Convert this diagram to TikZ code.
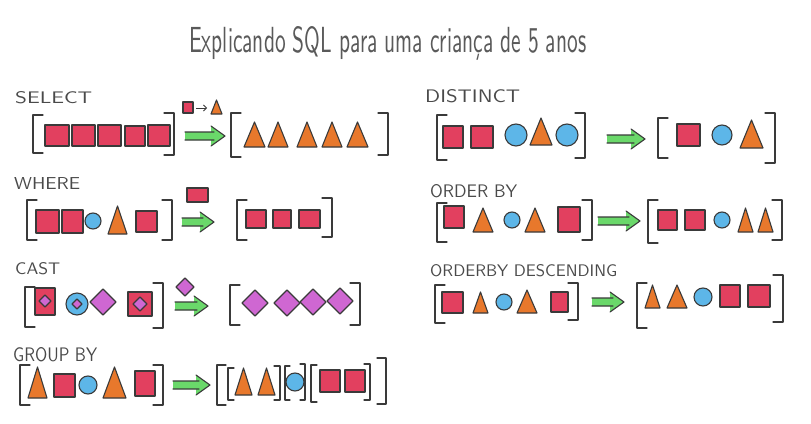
\documentclass[tikz,border=0pt]{standalone}
\usepackage{fontspec}
\usetikzlibrary{arrows.meta}
\definecolor{ink}{HTML}{3A3A3A}
\definecolor{lblcol}{HTML}{4A4A4A}
\definecolor{ttlcol}{HTML}{5A5A5A}
\definecolor{redsq}{HTML}{E2405F}
\definecolor{orgtri}{HTML}{E8782C}
\definecolor{blucir}{HTML}{5DB6E8}
\definecolor{purdia}{HTML}{CF67D2}
\definecolor{grnarw}{HTML}{6AD86A}
\tikzset{
  shp/.style={draw=ink, line width=1.1pt, line join=round},
  sqs/.style={shp, fill=redsq},
  tris/.style={shp, fill=orgtri},
  cis/.style={shp, fill=blucir},
  dias/.style={shp, fill=purdia},
  brk/.style={draw=ink, line width=1.3pt, line cap=round, line join=round},
  lbl/.style={anchor=south west, inner sep=0pt, text=lblcol, font=\sffamily}
}
\newcommand\Sq[4]{\path[sqs] (#1,#2) rectangle (#3,#4);}
\newcommand\Tri[4]{\path[tris] (#1,#4) -- ({(#1+#3)/2},#2) -- (#3,#4) -- cycle;}
\newcommand\Cir[3]{\path[cis] (#1,#2) circle[radius=#3pt];}
\newcommand\Dia[3]{\path[dias] ({#1-#3},#2) -- (#1,{#2-#3}) -- ({#1+#3},#2) -- (#1,{#2+#3}) -- cycle;}
\newcommand\Brl[4]{\draw[brk] ({#1+#4},#2) -- (#1,#2) -- (#1,#3) -- ({#1+#4},#3);}
\newcommand\Brr[4]{\draw[brk] ({#1-#4},#2) -- (#1,#2) -- (#1,#3) -- ({#1-#4},#3);}
\newcommand\Arw[3]{%
  \path[fill=grnarw] (#1,{#3-4}) -- ({#2-14},{#3-4}) -- ({#2-14},{#3-10}) -- (#2,#3) -- ({#2-14},{#3+10}) -- ({#2-14},{#3+4}) -- (#1,{#3+4}) -- cycle;
  \draw[draw=ink, line width=1.1pt, line cap=round, line join=round] (#1,{#3-4}) -- ({#2-11},{#3-4}) (#1,{#3+4}) -- ({#2-11},{#3+4}) ({#2-14},{#3-10}) -- (#2,#3) -- ({#2-14},{#3+10});}
\newcommand\Lbl[5]{\node[lbl] at (#1,#2) {\resizebox{#3pt}{#4pt}{#5}};}
\begin{document}
\begin{tikzpicture}[x=1pt,y=-1pt]
\useasboundingbox[fill=white] (0,0) rectangle (811,423);
% title
\node[anchor=base west, inner sep=0pt, text=ttlcol, font=\sffamily] (title) at (189,52) {\resizebox{397pt}{26pt}{Explicando SQL para uma criança de 5 anos}};
% labels
\Lbl{15}{104}{77}{12}{SELECT}
\Lbl{14}{190}{66}{12}{WHERE}
\Lbl{15}{275}{45}{12}{CAST}
\Lbl{13}{362}{84}{14}{GROUP BY}
\Lbl{425}{103}{95}{13}{DISTINCT}
\Lbl{430}{198}{87}{13}{ORDER BY}
\Lbl{430}{277}{187}{12}{ORDERBY DESCENDING}
% ---------- SELECT
\Brl{33}{115}{153}{10}
\Sq{45}{125}{69}{146}\Sq{72}{125}{95}{146}\Sq{98}{125}{121}{146}\Sq{125}{126}{145}{146}\Sq{148}{125}{170}{146}
\Brr{174}{113}{155}{10}
\Sq{183}{102}{193}{113}
\draw[draw=ink, line width=0.8pt, -{Straight Barb[length=3pt]}] (196,108) -- (207,108);
\Tri{211}{100}{222}{114}
\Arw{185}{225}{136}
\Brl{231}{113}{157}{10}
\Tri{244}{122}{265}{147}\Tri{268}{122}{288}{147}\Tri{297}{122}{317}{147}\Tri{322}{122}{342}{147}\Tri{347}{122}{368}{147}
\Brr{388}{113}{155}{10}
% ---------- WHERE
\Brl{27}{200}{240}{10}
\Sq{36}{210}{59}{233}\Sq{62}{210}{83}{233}
\Cir{93}{221}{8}
\Tri{108}{206}{127}{234}
\Sq{136}{211}{157}{232}
\Brr{172}{200}{240}{10}
\Sq{187}{188}{208}{202}
\Arw{182}{214}{222}
\Brl{237}{200}{240}{10}
\Sq{246}{210}{266}{228}\Sq{273}{210}{291}{228}\Sq{299}{210}{320}{228}
\Brr{332}{198}{237}{10}
% ---------- CAST
\Brl{25}{287}{327}{10}
\Sq{35}{288}{55}{315}\Dia{45}{301}{6}
\Cir{77}{304}{11}\Dia{77}{304}{5}
\Dia{103}{302}{13}
\Sq{128}{292}{152}{316}\Dia{140}{304}{7}
\Brr{163}{283}{328}{10}
\Dia{185}{287}{9}
\Arw{175}{208}{306}
\Brl{230}{285}{325}{10}
\Dia{255}{303}{13}\Dia{287}{303}{13}\Dia{313}{302}{13}\Dia{340}{301}{13}
\Brr{360}{283}{325}{10}
% ---------- GROUP BY
\Brl{20}{365}{405}{10}
\Tri{28}{367}{47}{398}
\Sq{54}{374}{75}{397}
\Cir{88}{385}{9}
\Tri{103}{367}{126}{398}
\Sq{135}{371}{155}{396}
\Brr{163}{365}{405}{10}
\Arw{173}{210}{385}
\Brl{217}{365}{405}{9}
\Brl{228}{368}{400}{6}
\Tri{235}{368}{252}{395}\Tri{258}{368}{275}{395}
\Brr{280}{366}{400}{6}
\Brl{285}{366}{400}{5}
\Cir{295}{382}{9}
\Brr{305}{364}{400}{5}
\Brl{311}{365}{402}{6}
\Sq{320}{370}{340}{392}\Sq{345}{370}{365}{392}
\Brr{370}{364}{400}{6}
\Brr{386}{358}{404}{9}
% ---------- DISTINCT
\Brl{437}{115}{160}{10}
\Sq{443}{126}{463}{148}\Sq{471}{126}{493}{148}
\Cir{516}{135}{11}
\Tri{530}{118}{552}{145}
\Cir{567}{135}{11}
\Brr{585}{113}{158}{10}
\Arw{607}{645}{139}
\Brl{658}{118}{158}{10}
\Sq{677}{124}{700}{146}
\Cir{722}{135}{10}
\Tri{740}{120}{763}{148}
\Brr{775}{113}{163}{10}
% ---------- ORDER BY
\Brl{437}{203}{242}{10}
\Sq{444}{206}{464}{228}
\Tri{473}{208}{493}{232}
\Cir{512}{220}{8}
\Tri{525}{208}{545}{232}
\Sq{558}{207}{580}{232}
\Brr{592}{200}{240}{10}
\Arw{598}{640}{221}
\Brl{648}{200}{243}{10}
\Sq{658}{210}{677}{230}\Sq{685}{210}{705}{230}
\Cir{722}{220}{8}
\Tri{738}{208}{753}{232}\Tri{758}{208}{773}{232}
\Brr{782}{200}{240}{10}
% ---------- ORDER BY DESCENDING
\Brl{435}{285}{323}{10}
\Sq{442}{292}{463}{313}
\Tri{473}{292}{488}{313}
\Cir{504}{302}{8}
\Tri{517}{290}{537}{313}
\Sq{551}{292}{568}{312}
\Brr{578}{283}{320}{10}
\Arw{592}{624}{302}
\Brl{637}{283}{328}{10}
\Tri{645}{285}{660}{308}\Tri{667}{285}{687}{308}
\Cir{703}{297}{9}
\Sq{720}{285}{740}{307}\Sq{748}{285}{770}{307}
\Brr{783}{275}{322}{10}
\end{tikzpicture}
\end{document}
